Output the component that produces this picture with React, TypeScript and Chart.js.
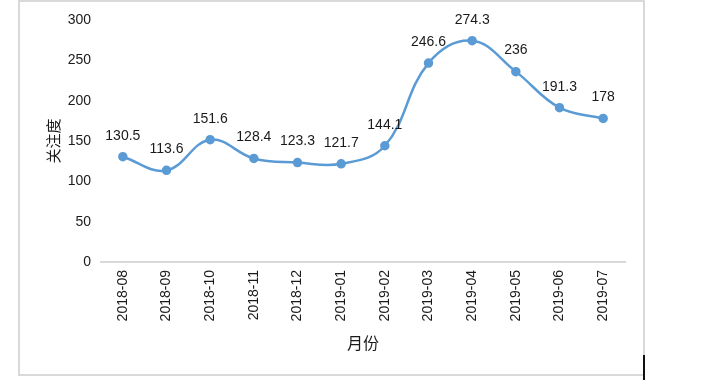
import React, { useEffect, useRef } from "react";
import { Chart, registerables } from "chart.js";

Chart.register(...registerables);

const months = [
  "2018-08", "2018-09", "2018-10", "2018-11", "2018-12", "2019-01",
  "2019-02", "2019-03", "2019-04", "2019-05", "2019-06", "2019-07",
];
const attention = [130.5, 113.6, 151.6, 128.4, 123.3, 121.7, 144.1, 246.6, 274.3, 236, 191.3, 178];
const yTitle = "关注度";
const xTitle = "月份";

const LATIN = "'Liberation Sans', Arial, sans-serif";
const CJK = "'Noto Sans CJK SC', sans-serif";

const labelPlugin = {
  id: "pointLabels",
  afterDatasetsDraw(chart: any) {
    const ctx = chart.ctx;
    const meta = chart.getDatasetMeta(0);
    const data = chart.data.datasets[0].data;
    ctx.save();
    ctx.font = `14px ${LATIN}`;
    ctx.fillStyle = "#1a1a1a";
    ctx.textAlign = "center";
    ctx.textBaseline = "middle";
    meta.data.forEach((pt: any, i: number) => {
      ctx.fillText(String(data[i]), pt.x, pt.y - 21);
    });
    ctx.restore();
  },
};

export default function App() {
  const ref = useRef<HTMLCanvasElement | null>(null);
  useEffect(() => {
    if (!ref.current) return;
    const chart = new Chart(ref.current, {
      type: "line",
      data: {
        labels: months,
        datasets: [
          {
            data: attention,
            borderColor: "#5B9BD5",
            backgroundColor: "#5B9BD5",
            borderWidth: 2.5,
            pointRadius: 3.5,
            pointBackgroundColor: "#5B9BD5",
            pointBorderColor: "#5B9BD5",
            tension: 0.4,
            fill: false,
          },
        ],
      },
      options: {
        animation: false,
        responsive: false,
        maintainAspectRatio: false,
        layout: { padding: { left: 0, top: 20, right: 83, bottom: 27 } },
        plugins: { legend: { display: false }, tooltip: { enabled: false } },
        scales: {
          x: {
            offset: true,
            grid: { display: false, drawTicks: false },
            border: { display: true, color: "#d9d9d9", width: 2 },
            ticks: {
              minRotation: 90,
              maxRotation: 90,
              autoSkip: false,
              padding: 8,
              color: "#1a1a1a",
              font: { family: LATIN, size: 14 },
            },
            title: {
              display: true,
              text: xTitle,
              color: "#1a1a1a",
              font: { family: CJK, size: 16 },
              padding: { top: 0, bottom: 9 },
            },
            afterFit(scale: any) {
              scale.height = 100;
            },
          },
          y: {
            min: 0,
            max: 300,
            grid: { display: false, drawTicks: false },
            border: { display: false },
            ticks: {
              stepSize: 50,
              padding: 10,
              color: "#1a1a1a",
              font: { family: LATIN, size: 14 },
            },
            title: {
              display: true,
              text: yTitle,
              color: "#1a1a1a",
              font: { family: CJK, size: 15 },
              padding: { top: 44, bottom: 0 },
            },
            afterFit(scale: any) {
              scale.width = 101;
            },
          },
        },
      },
      plugins: [labelPlugin],
    });
    return () => chart.destroy();
  }, []);

  return (
    <div style={{ position: "absolute", left: 0, top: 0, width: 708, height: 389, background: "#fff" }}>
      <div
        style={{
          position: "absolute",
          left: 18,
          top: 0,
          width: 623,
          height: 372,
          border: "2px solid #d9d9d9",
        }}
      />
      <canvas ref={ref} width={708} height={389} style={{ position: "absolute", left: 0, top: 0 }} />
      <div style={{ position: "absolute", left: 643, top: 355, width: 2, height: 25, background: "#111" }} />
    </div>
  );
}
